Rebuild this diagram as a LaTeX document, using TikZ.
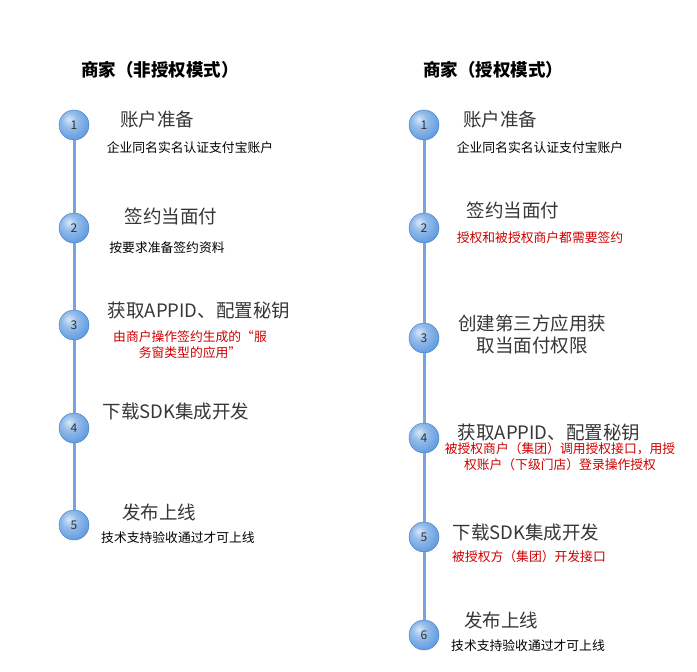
\documentclass[tikz,border=0pt]{standalone}
\usepackage{fontspec}
\setmainfont{Noto Sans CJK SC}
\usetikzlibrary{positioning,shadings}
\definecolor{LineBlue}{RGB}{118,163,226}
\definecolor{BallBlue}{RGB}{66,136,218}
\definecolor{StepGrey}{RGB}{55,55,55}
\definecolor{NoteRed}{RGB}{205,0,0}
\pgfdeclareradialshading{dotshade}{\pgfpoint{-9bp}{10bp}}{%
  color(0bp)=(white!80!BallBlue); color(12bp)=(BallBlue!55!white);
  color(32bp)=(BallBlue!85!white); color(48bp)=(BallBlue);
  color(70bp)=(BallBlue!85!black)}
\tikzset{
  stepdot/.style={circle, minimum size=30pt, inner sep=0pt,
    shading=dotshade, draw=BallBlue!90!black, thin, text=black!80,
    font=\fontsize{12}{14}\selectfont},
  steptitle/.style={font=\fontsize{18.5}{22}\selectfont, text=StepGrey,
    align=center},
  stepnote/.style={font=\fontsize{12.8}{16}\selectfont, align=center},
  rednote/.style={stepnote, text=NoteRed},
  coltitle/.style={font=\fontsize{17.5}{20}\selectfont\bfseries},
  track/.style={line width=3pt, LineBlue}
}

\begin{document}
\begin{tikzpicture}[x=1pt, y=-1pt]
  \useasboundingbox[fill=white] (0,0) rectangle (697,672);

  % left column: without authorisation
  \node[coltitle] (ltitle) at (160,70) {商家（非授权模式）};
  \node[stepdot] (l1) at (74,125) {1};
  \node[stepdot] (l2) at (74,228) {2};
  \node[stepdot] (l3) at (74,325) {3};
  \node[stepdot] (l4) at (74,428) {4};
  \node[stepdot] (l5) at (74,525) {5};
  \foreach \a/\b in {l1/l2, l2/l3, l3/l4, l4/l5}
    \draw[track] (\a) -- (\b);

  \node[steptitle] (la) at (157,119) {账户准备};
  \node[stepnote] (lan) at (190,148) {企业同名实名认证支付宝账户};
  \node[steptitle] (lb) at (171,216) {签约当面付};
  \node[stepnote] (lbn) at (167,248) {按要求准备签约资料};
  \node[steptitle] (lc) at (199,311) {获取APPID、配置秘钥};
  \node[rednote] (lcn) at (190,345) {由商户操作签约生成的“服\\务窗类型的应用”};
  \node[steptitle] (ld) at (176,411) {下载SDK集成开发};
  \node[steptitle] (le) at (159,512) {发布上线};
  \node[stepnote] (len) at (178,538) {技术支持验收通过才可上线};

  % right column: with authorisation
  \node[coltitle] (rtitle) at (493,70) {商家（授权模式）};
  \node[stepdot] (r1) at (424,125) {1};
  \node[stepdot] (r2) at (424,228) {2};
  \node[stepdot] (r3) at (424,338) {3};
  \node[stepdot] (r4) at (424,438) {4};
  \node[stepdot] (r5) at (424,537) {5};
  \node[stepdot] (r6) at (424,635) {6};
  \foreach \a/\b in {r1/r2, r2/r3, r3/r4, r4/r5, r5/r6}
    \draw[track] (\a) -- (\b);

  \node[steptitle] (ra) at (500,119) {账户准备};
  \node[stepnote] (ran) at (540,148) {企业同名实名认证支付宝账户};
  \node[steptitle] (rb) at (513,210) {签约当面付};
  \node[rednote] (rbn) at (540,238) {授权和被授权商户都需要签约};
  \node[steptitle] (rc) at (532,334) {创建第三方应用获\\取当面付权限};
  \node[steptitle] (rd) at (549,433) {获取APPID、配置秘钥};
  \node[rednote] (rdn) at (560,457) {被授权商户（集团）调用授权接口，用授\\权账户（下级门店）登录操作授权};
  \node[steptitle] (re) at (526,532) {下载SDK集成开发};
  \node[rednote] (ren) at (529,557) {被授权方（集团）开发接口};
  \node[steptitle] (rf) at (501,620) {发布上线};
  \node[stepnote] (rfn) at (528,646) {技术支持验收通过才可上线};
\end{tikzpicture}
\end{document}
